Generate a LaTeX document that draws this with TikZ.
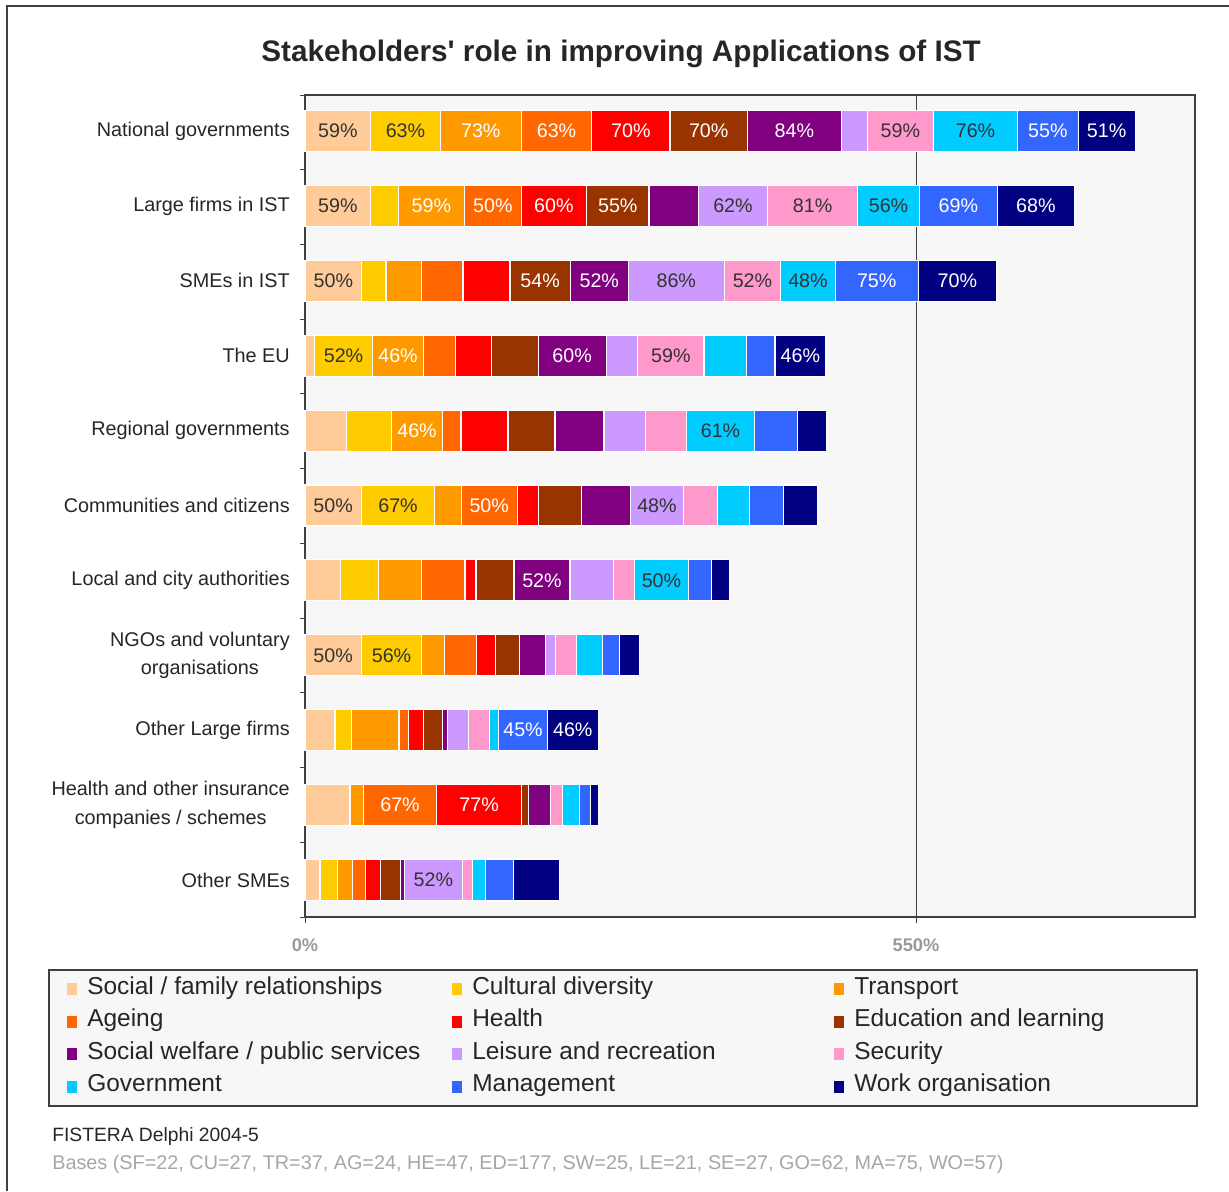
\documentclass[tikz,border=0pt]{standalone}
\usepackage{fontspec}
\setmainfont{Liberation Sans}

% series colours
\definecolor{c1}{HTML}{FFCC99}
\definecolor{c2}{HTML}{FFCC00}
\definecolor{c3}{HTML}{FF9900}
\definecolor{c4}{HTML}{FF6600}
\definecolor{c5}{HTML}{FF0000}
\definecolor{c6}{HTML}{993300}
\definecolor{c7}{HTML}{800080}
\definecolor{c8}{HTML}{CC99FF}
\definecolor{c9}{HTML}{FF99CC}
\definecolor{c10}{HTML}{00CCFF}
\definecolor{c11}{HTML}{3366FF}
\definecolor{c12}{HTML}{000080}
\definecolor{plotbg}{HTML}{F7F7F7}
\definecolor{framegray}{HTML}{404040}
\definecolor{labgray}{HTML}{333333}
\definecolor{axisgray}{HTML}{999999}
\definecolor{basegray}{HTML}{A6A6A6}
% label colour on each series
\colorlet{t1}{labgray}\colorlet{t2}{labgray}\colorlet{t3}{white}
\colorlet{t4}{white}\colorlet{t5}{white}\colorlet{t6}{white}
\colorlet{t7}{white}\colorlet{t8}{labgray}\colorlet{t9}{labgray}
\colorlet{t10}{labgray}\colorlet{t11}{white}\colorlet{t12}{white}

\begin{document}
\begin{tikzpicture}[x=0.025cm, y=-0.025cm,
    catlabel/.style={anchor=east, align=center, font=\fontsize{14.1}{20.5}\selectfont, text=black!85, inner sep=0pt},
    barlabel/.style={font=\fontsize{14}{16}\selectfont, inner sep=0pt},
    legtext/.style={anchor=base west, font=\fontsize{17.4}{20}\selectfont, text=black!85, inner sep=0pt},
    axislabel/.style={font=\bfseries\fontsize{13}{15}\selectfont, text=axisgray},
    seg/.style={draw=white, line width=0.8pt}]
    \useasboundingbox (0,0) rectangle (1229,1191);
    % outer frame
    \draw[framegray, line width=1.4pt] (7,1191) -- (7,6) -- (1229,6);
    \node[font=\bfseries\fontsize{21.1}{25}\selectfont, text=black!85] (title) at (621,54) {Stakeholders\textquotesingle{} role in improving Applications of IST};

    % plot area
    \draw[framegray, fill=plotbg, line width=0.9pt] (305,95) rectangle (1195,917);
    \draw[framegray, line width=0.7pt] (916,95) -- (916,923);
    \draw[framegray, line width=0.7pt] (305,917) -- (305,923);
    \foreach \k in {0,...,11}
        \draw[framegray, line width=0.7pt] (300,{95+74.73*\k}) -- (305,{95+74.73*\k});
    \node[axislabel] (ax0) at (305,945) {0\%};
    \node[axislabel] (ax550) at (916,945) {550\%};

    % stacked bars: width in % / label (0 = none)
    \foreach \r/\cat/\vals in {
        1/{National governments}/{59.1/59,62.7/63,72.9/73,63.4/63,70.5/70,69.6/70,84.6/84,23.4/0,59.4/59,76.0/76,54.3/55,51.3/51},
        2/{Large firms in IST}/{59.1/59,24.8/0,59.8/59,50.9/50,58.9/60,56.1/55,44.4/0,62.5/62,81.0/81,55.5/56,70.2/69,69.3/68},
        3/{SMEs in IST}/{51.0/50,21.9/0,32.1/0,37.2/0,42.3/0,54.3/54,52.2/52,86.4/86,50.8/52,49.1/48,74.7/75,70.6/70},
        4/{The EU}/{8.4/0,52.6/52,45.5/46,29.2/0,31.8/0,42.3/0,61.2/60,28.5/0,59.7/59,38.4/0,25.5/0,45.6/46},
        5/{Regional governments}/{37.2/0,40.9/0,45.5/46,16.8/0,42.3/0,42.3/0,44.1/0,37.2/0,37.3/0,60.9/61,39.1/0,25.5/0},
        6/{Communities and citizens}/{50.7/50,66.1/67,23.7/0,50.7/50,18.6/0,39.3/0,44.1/0,47.3/48,30.6/0,29.1/0,30.3/0,30.6/0},
        7/{Local and city authorities}/{32.1/0,33.8/0,39.1/0,39.0/0,9.9/0,34.2/0,50.4/52,39.0/0,18.9/0,49.0/50,20.3/0,16.8/0},
        8/{NGOs and voluntary\\organisations}/{50.7/50,54.4/56,20.1/0,28.8/0,17.1/0,21.9/0,23.8/0,8.4/0,18.9/0,23.4/0,15.6/0,18.0/0},
        9/{Other Large firms}/{27.0/0,15.0/0,42.6/0,8.4/0,13.5/0,17.1/0,4.9/0,18.5/0,18.9/0,8.5/0,43.7/45,45.9/46},
        10/{Health and other insurance\\companies / schemes}/{40.5/0,0/0,12.0/0,66.1/67,76.2/77,6.7/0,19.8/0,0/0,10.8/0,14.9/0,10.3/0,6.8/0},
        11/{Other SMEs}/{13.5/0,15.6/0,13.5/0,11.7/0,13.5/0,18.4/0,3.0/0,52.8/52,8.6/0,11.7/0,25.2/0,41.4/0}}{
        \pgfmathsetmacro\yc{131+(\r-1)*74.9}
        \node[catlabel] (cat-\r) at (290,\yc) {\cat};
        \xdef\xs{0}
        \foreach \w/\t [count=\i] in \vals {
            \pgfmathsetmacro\xe{\xs+\w}
            \path[fill=c\i, seg] ({305+1.1109*\xs},\yc-20.5) rectangle ({305+1.1109*\xe},\yc+20.5);
            \ifnum\t>0
                \node[barlabel, text=t\i] (lab-\r-\i) at ({305+1.1109*(\xs+\xe)/2},\yc) {\t\%};
            \fi
            \xdef\xs{\xe}
        }
    }

    % legend
    \draw[framegray, fill=plotbg, line width=0.9pt] (49,970) rectangle (1197,1106);
    \foreach \i/\nm in {1/{Social / family relationships},2/{Cultural diversity},3/{Transport},
        4/{Ageing},5/{Health},6/{Education and learning},
        7/{Social welfare / public services},8/{Leisure and recreation},9/{Security},
        10/{Government},11/{Management},12/{Work organisation}}{
        \pgfmathsetmacro\xm{{67,452,834}[mod(\i-1,3)]}
        \pgfmathsetmacro\yl{994+32.5*int((\i-1)/3)}
        \fill[c\i] (\xm,\yl-11) rectangle (\xm+10,\yl+1);
        \node[legtext] (leg-\i) at (\xm+20,\yl) {\nm};
    }

    % source
    \node[anchor=base west, font=\fontsize{13.7}{16}\selectfont, text=black!85, inner sep=0pt] (src) at (52,1141) {FISTERA Delphi 2004-5};
    \node[anchor=base west, font=\fontsize{14.1}{16}\selectfont, text=basegray, inner sep=0pt] (bases) at (52,1169) {Bases (SF=22, CU=27, TR=37, AG=24, HE=47, ED=177, SW=25, LE=21, SE=27, GO=62, MA=75, WO=57)};
\end{tikzpicture}
\end{document}
